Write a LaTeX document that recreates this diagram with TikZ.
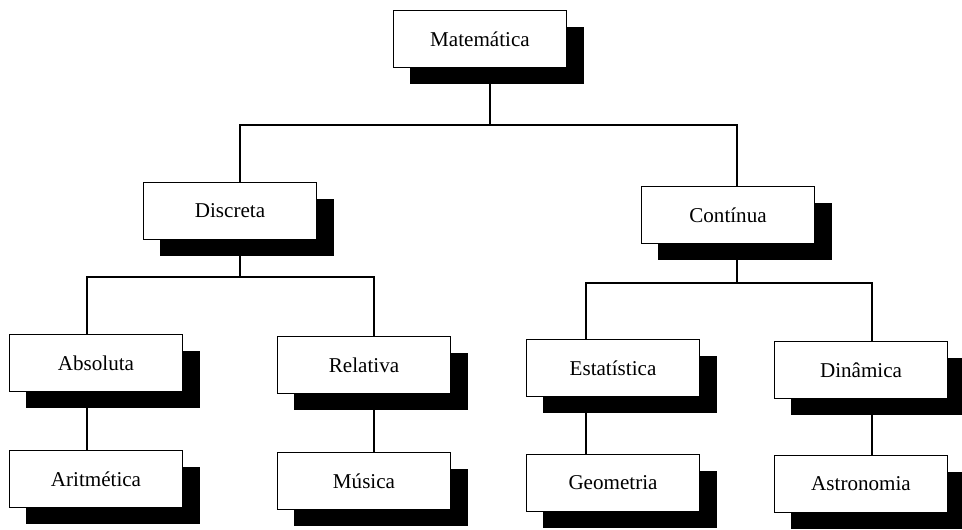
\documentclass[tikz,border=0pt]{standalone}
\usepackage{fontspec}
\setmainfont{Liberation Serif}
\usetikzlibrary{shadows}
\tikzset{
  caixa/.style={draw, fill=white, line width=1.2pt, minimum width=5.2cm,
    minimum height=1.72cm, inner sep=0pt, font=\fontsize{18}{20}\selectfont,
    drop shadow={fill=black, opacity=1, shadow xshift=0.51cm, shadow yshift=-0.5cm}},
  ligacao/.style={line width=1.2pt}
}
\begin{document}
\begin{tikzpicture}[x=0.03cm, y=-0.03cm]
    \useasboundingbox (0,0) rectangle (962,529);
    % Caixas
    \node[caixa] (mat) at (480,39) {Matemática};
    \node[caixa] (disc) at (230,211) {Discreta};
    \node[caixa] (cont) at (728,215) {Contínua};
    \node[caixa] (abs) at (96,363) {Absoluta};
    \node[caixa] (rel) at (364,365) {Relativa};
    \node[caixa] (est) at (613,368) {Estatística};
    \node[caixa] (din) at (861,370) {Dinâmica};
    \node[caixa] (arit) at (96,479) {Aritmética};
    \node[caixa] (mus) at (364,481) {Música};
    \node[caixa] (geo) at (613,483) {Geometria};
    \node[caixa] (astro) at (861,484) {Astronomia};
    % Pontos das barras
    \coordinate (m0) at (490,125);
    \coordinate (t1) at (240,125);
    \coordinate (t2) at (737,125);
    \coordinate (d0) at (240,277);
    \coordinate (d1) at (87,277);
    \coordinate (d2) at (374,277);
    \coordinate (c0) at (737,283);
    \coordinate (c1) at (586,283);
    \coordinate (c2) at (872,283);
    % Ligacoes
    \draw[ligacao] (mat.south -| m0) -- (m0);
    \draw[ligacao] (disc.north -| t1) -- (t1) -- (t2) -- (cont.north -| t2);
    \draw[ligacao] (disc.south -| d0) -- (d0);
    \draw[ligacao] (abs.north -| d1) -- (d1) -- (d2) -- (rel.north -| d2);
    \draw[ligacao] (cont.south -| c0) -- (c0);
    \draw[ligacao] (est.north -| c1) -- (c1) -- (c2) -- (din.north -| c2);
    \foreach \a/\b/\c in {abs/arit/d1, rel/mus/d2, est/geo/c1, din/astro/c2} {
        \draw[ligacao] (\a.south -| \c) -- (\b.north -| \c);
    }
\end{tikzpicture}
\end{document}
